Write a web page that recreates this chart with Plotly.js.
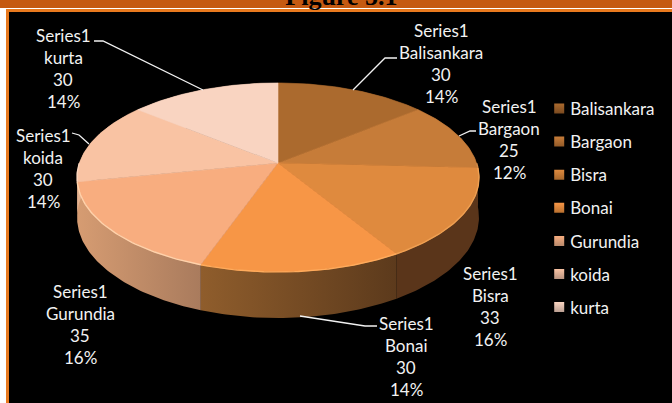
<!DOCTYPE html>
<html><head><meta charset="utf-8">
<script src="https://cdn.plot.ly/plotly-3.0.1.min.js"></script>
<style>html,body{margin:0;padding:0;background:#fff;overflow:hidden}</style>
</head><body><div id="chart" style="width:672px;height:403px"></div>
<script>
const categories=["Balisankara","Bargaon","Bisra","Bonai","Gurundia","koida","kurta"];
const values=[30,25,33,30,35,30,30];
const percentLabels=["14%","12%","16%","14%","16%","14%","14%"];
const seriesName="Series1";
const topColors=["#ab6a2e","#c67c39","#df8a3e","#f79646","#f8ad7f","#f9c3a3","#f9d4c1"];
const rimColors=["#ab6a2e","#d08a48","#f0a052","#ffab5c","#ffd2ab","#fbd5bd","#f9d4c1"];
const sideLeft=["#5a351a","#5a351a","#5a351a","#8f5d2c","#d69c72","#e4b392","#e4b392"];
const sideRight=["#5a351a","#5a351a","#5a351a","#5c3a1c","#a97b5d","#d8a684","#e4b392"];
const legendDark=["#7a4a20","#935a28","#a8682c","#b8702f","#b98a6c","#b8937f","#bb9f92"];
const labelX=[441,509,490,406,80,43,63];
const labelY=[30,106,273,323,291,135,35];
const leaders=[[[397,58],[385,58],[353,90]],[[476,131],[470,131],[459,136]],null,[[377,326],[365,326],[300,316]],null,[[72,133],[79,135],[89,144]],[[94,41],[103,41],[203,90]]];

const cx=278,cy=163,a=198.6,b=92.3,p=0.153,depth=39,lineGap=22;
const total=values.reduce((s,v)=>s+v,0);
function rim(t,down){const u=Math.sin(t),v=Math.cos(t),w=1+p*v;return [cx+a*u/w,cy-b*v/w+(down?depth/w:0)];}
function arc(t0,t1,down){const out=[],n=Math.max(4,Math.ceil((t1-t0)*60));for(let i=0;i<=n;i++)out.push(rim(t0+(t1-t0)*i/n,down));return out;}
const spans=[];let cum=0;
values.forEach(v=>{const t0=cum/total*2*Math.PI;cum+=v;spans.push([t0,cum/total*2*Math.PI]);});

const traces=[];
spans.forEach(([t0,t1],i)=>{
  const pts=arc(t0,t1,false).concat(arc(t0,t1,true).reverse());pts.push(pts[0]);
  traces.push({type:"scatter",mode:"lines",x:pts.map(q=>q[0]),y:pts.map(q=>q[1]),fill:"toself",
    line:{width:0,color:sideRight[i]},fillcolor:sideRight[i],
    fillgradient:{type:"horizontal",colorscale:[[0,sideLeft[i]],[1,sideRight[i]]]},
    showlegend:false,hoverinfo:"skip"});
});
spans.forEach(([t0,t1],i)=>{
  const pts=[[cx,cy]].concat(arc(t0,t1,false));pts.push([cx,cy]);
  traces.push({type:"scatter",mode:"lines",x:pts.map(q=>q[0]),y:pts.map(q=>q[1]),fill:"toself",
    line:{width:0.6,color:topColors[i]},fillcolor:topColors[i],showlegend:false,
    name:categories[i],text:`${categories[i]}: ${values[i]}`,hoverinfo:"text"});
});
spans.forEach(([t0,t1],i)=>{
  const pts=arc(t0,t1,false).filter(q=>q[1]>cy);
  if(pts.length)traces.push({type:"scatter",mode:"lines",x:pts.map(q=>q[0]),y:pts.map(q=>q[1]),
    line:{width:1.4,color:rimColors[i]},showlegend:false,hoverinfo:"skip"});
});
categories.forEach((c,i)=>traces.push({type:"scatter",mode:"markers",x:[null],y:[null],name:c,legendgroup:c,
  marker:{symbol:"square",size:10,color:topColors[i],line:{width:0},gradient:{type:"vertical",color:legendDark[i]}}}));

const annotations=[];
categories.forEach((c,i)=>{
  [seriesName,c,String(values[i]),percentLabels[i]].forEach((s,k)=>annotations.push({
    xref:"x",yref:"y",x:labelX[i],y:labelY[i]+k*lineGap,text:s,showarrow:false,
    xanchor:"center",yanchor:"middle",font:{family:"Lato",size:17,color:"#f2f2f2"}}));
});
const shapes=[
  {type:"rect",layer:"below",xref:"x",yref:"y",x0:0,x1:672,y0:0,y1:8,fillcolor:"#c55a11",line:{width:0}},
  {type:"rect",layer:"below",xref:"x",yref:"y",x0:6,x1:672,y0:9,y1:403,fillcolor:"#e8791e",line:{width:0}},
  {type:"rect",layer:"below",xref:"x",yref:"y",x0:9,x1:672,y0:12,y1:403,fillcolor:"#000",line:{width:0}}
];
leaders.forEach(l=>{if(l)shapes.push({type:"path",layer:"above",xref:"x",yref:"y",
  path:"M"+l.map(q=>q.join(" ")).join("L"),line:{color:"#f2f2f2",width:1.3}});});

const layout={width:672,height:403,margin:{l:0,r:0,t:0,b:0,pad:0},paper_bgcolor:"#fff",plot_bgcolor:"rgba(0,0,0,0)",
  title:{text:"Figure 5.1",x:0.508,xanchor:"center",y:1,yanchor:"bottom",pad:{b:-5,t:0,l:0,r:0},automargin:false,
    font:{family:"Liberation Serif",size:26,color:"#000",weight:700}},
  xaxis:{visible:false,range:[0,672],fixedrange:true},
  yaxis:{visible:false,range:[403,0],fixedrange:true},
  showlegend:true,
  legend:{x:0.789,y:0.484,xanchor:"left",yanchor:"middle",bgcolor:"rgba(0,0,0,0)",borderwidth:0,
    font:{family:"Lato",size:17,color:"#f2f2f2"},tracegroupgap:8,itemclick:false,itemdoubleclick:false},
  annotations,shapes,hovermode:"closest"};
Plotly.newPlot("chart",traces,layout,{displayModeBar:false}).then(()=>{
  document.querySelectorAll("#chart .legend .legendsymbols").forEach(n=>n.setAttribute("transform","translate(9,0)"));
});
</script></body></html>
